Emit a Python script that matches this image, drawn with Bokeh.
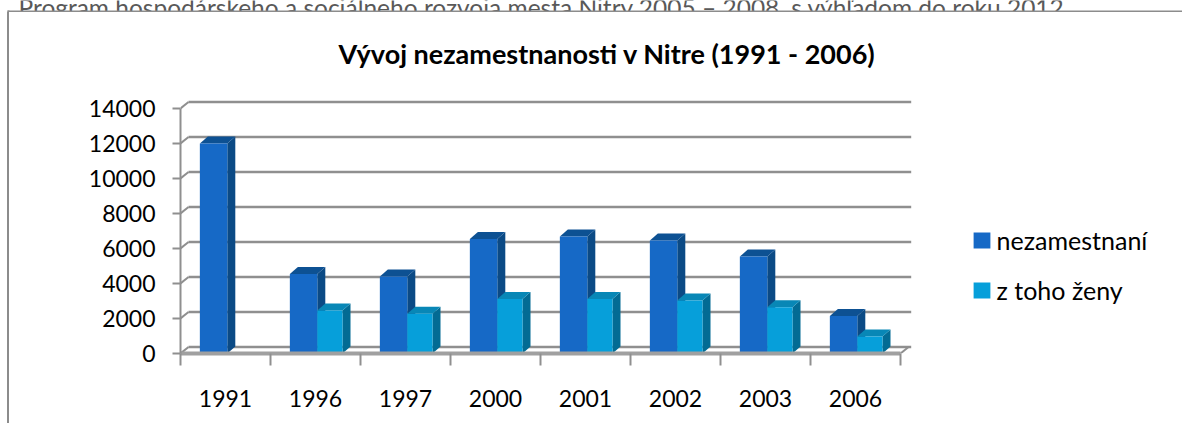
from bokeh.plotting import figure
from bokeh.models import Range1d, FixedTicker, Label, Legend, LegendItem
from bokeh.layouts import column
from bokeh.core.properties import value
from bokeh.embed import file_html
from bokeh.resources import INLINE

# ---- data ----
years = ["1991", "1996", "1997", "2000", "2001", "2002", "2003", "2006"]
nezamestnani = [12000, 4550, 4400, 6550, 6690, 6460, 5540, 2150]
z_toho_zeny = [0, 2460, 2270, 3120, 3120, 3030, 2650, 970]
y_ticks = [0, 2000, 4000, 6000, 8000, 10000, 12000, 14000]
series_names = ["nezamestnaní", "z toho ženy"]
title_text = "Vývoj nezamestnanosti v Nitre (1991  - 2006)"
source_text = "Program hospodárskeho a sociálneho rozvoja mesta Nitry 2005 \u2013 2008, s výhľadom do roku 2012"

FONT = "Lato"
GRID = "#8f8f8f"
BORDER = "#8c8c8c"

W = 1182
TOP_H = 12               # strip holding the cut-off document line above the chart
H = 423 - TOP_H

# ---------- top strip (cut-off document text + chart border top) ----------
top = figure(width=W, height=TOP_H, output_backend="svg", toolbar_location=None,
             x_range=Range1d(0, W), y_range=Range1d(TOP_H, 0),
             x_axis_location=None, y_axis_location=None,
             min_border=0, outline_line_color=None)
top.frame_align = False
top.xgrid.visible = False
top.ygrid.visible = False
top.text(x=[18], y=[7], text=[source_text], text_font=value(FONT),
         text_font_size=value("24.5px"), text_color="#595959",
         text_baseline="alphabetic", text_align="left")
top.segment(x0=[7], x1=[W], y0=[11], y1=[11], line_color=BORDER, line_width=2)
top.segment(x0=[8], x1=[8], y0=[10], y1=[TOP_H], line_color=BORDER, line_width=2)

# ---------- main chart ----------
PX_X = 90.0            # px per category
PX_Y = 0.0175          # px per data unit
FRAME_L, FRAME_R, FRAME_T, FRAME_B = 180, 1180, 20 - TOP_H, 353 - TOP_H

wall_dx = 8 / PX_X
wall_dy = 6.5 / PX_Y
bar_dx = 8 / PX_X
bar_dy = 7 / PX_Y

p = figure(width=W, height=H, output_backend="svg", toolbar_location=None,
           x_range=Range1d(0, (FRAME_R - FRAME_L) / PX_X),
           y_range=Range1d(0, (FRAME_B - FRAME_T) / PX_Y),
           min_border_left=FRAME_L, min_border_right=W - FRAME_R,
           min_border_top=FRAME_T, min_border_bottom=H - FRAME_B,
           outline_line_color=None, border_fill_alpha=0, background_fill_alpha=0)
p.frame_align = False
# chart-area left border drawn behind the transparent canvas
p.styles = {"background": "linear-gradient(#8c8c8c,#8c8c8c) 7px 0px / 2px 411px no-repeat"}
p.xgrid.visible = False
p.ygrid.visible = False

n = len(years)
# back wall gridlines + left wall diagonals + floor corner
p.segment(x0=[wall_dx] * len(y_ticks), x1=[n + wall_dx + 0.03] * len(y_ticks),
          y0=[v + wall_dy for v in y_ticks], y1=[v + wall_dy for v in y_ticks],
          line_color=GRID, line_width=2.5)
p.segment(x0=[0] * len(y_ticks), x1=[wall_dx] * len(y_ticks),
          y0=y_ticks, y1=[v + wall_dy for v in y_ticks],
          line_color=GRID, line_width=2)
p.segment(x0=[n], x1=[n + wall_dx], y0=[0], y1=[wall_dy], line_color=GRID, line_width=2)


def bar3d(lefts, rights, vals, front, side, topc):
    fl, fr, fb, ft = [], [], [], []
    sx, sy, tx, ty = [], [], [], []
    for l, r, v in zip(lefts, rights, vals):
        if v <= 0:
            continue
        fl.append(l); fr.append(r); fb.append(0); ft.append(v)
        sx.append([r, r + bar_dx, r + bar_dx, r])
        sy.append([0, bar_dy, v + bar_dy, v])
        tx.append([l, r, r + bar_dx, l + bar_dx])
        ty.append([v, v, v + bar_dy, v + bar_dy])
    p.patches(xs=sx, ys=sy, fill_color=side, line_color=None)
    p.patches(xs=tx, ys=ty, fill_color=topc, line_color=None)
    return p.quad(left=fl, right=fr, bottom=fb, top=ft, fill_color=front, line_color=None)


centers = [i + 0.5 for i in range(n)]
r1 = bar3d([c - 0.285 for c in centers], [c + 0.02 for c in centers], nezamestnani,
           "#1669c6", "#0b4a85", "#0d5193")
r2 = bar3d([c + 0.02 for c in centers], [c + 0.30 for c in centers], z_toho_zeny,
           "#069fda", "#036b94", "#0887b6")

# axes
xa = p.xaxis[0]
xa.ticker = FixedTicker(ticks=centers, minor_ticks=list(range(n + 1)))
xa.major_label_overrides = {c: y for c, y in zip(centers, years)}
xa.bounds = (0, n)
xa.major_tick_out = 0
xa.major_tick_in = 0
xa.minor_tick_out = 12
xa.minor_tick_in = 0
xa.minor_tick_line_color = GRID
xa.minor_tick_line_width = 2
xa.axis_line_color = "#a0a0a0"
xa.axis_line_width = 4
xa.major_label_standoff = 24
xa.major_label_text_font = FONT
xa.major_label_text_font_size = "23px"
xa.major_label_text_color = "#000000"

ya = p.yaxis[0]
ya.ticker = FixedTicker(ticks=y_ticks, minor_ticks=[])
ya.bounds = (0, 14000)
ya.major_tick_out = 8
ya.major_tick_in = 0
ya.major_tick_line_color = GRID
ya.major_tick_line_width = 2
ya.axis_line_color = GRID
ya.axis_line_width = 2
ya.major_label_standoff = 17
ya.major_label_text_font = FONT
ya.major_label_text_font_size = "23px"
ya.major_label_text_color = "#000000"

# chart title
p.add_layout(Label(x=430, y=353 - 53, x_units="screen", y_units="screen",
                   text=title_text, text_align="center", text_baseline="alphabetic",
                   text_font=FONT, text_font_style="bold", text_font_size="27px",
                   text_color="#000000"))

legend = Legend(items=[LegendItem(label=series_names[0], renderers=[r1]),
                       LegendItem(label=series_names[1], renderers=[r2])],
                location=(790.6, 48), orientation="vertical",
                glyph_width=21, glyph_height=20, label_standoff=5,
                label_text_font=FONT, label_text_font_size="25px",
                label_text_color="#000000", spacing=20, padding=0, margin=0,
                border_line_alpha=0, background_fill_alpha=0)
p.add_layout(legend)

layout = column(top, p, spacing=0)
open("out.html", "w").write(file_html(layout, INLINE))
